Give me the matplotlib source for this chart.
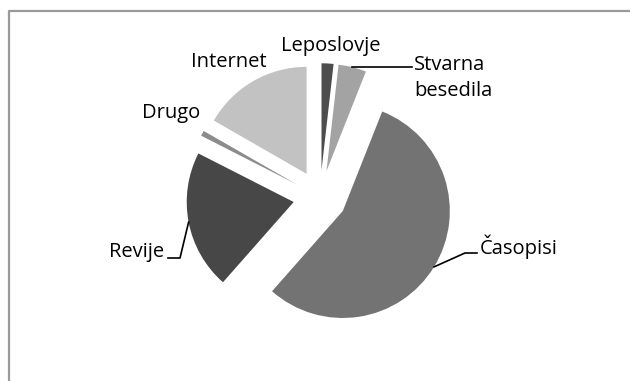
import numpy as np
import matplotlib.pyplot as plt
from matplotlib.lines import Line2D

# podatki (delež v %)
kategorije = ['Leposlovje', 'Stvarna\nbesedila', 'Časopisi', 'Revije', 'Drugo', 'Internet']
deleži = [1.8, 4.2, 55.5, 21.0, 0.8, 16.7]
barve = ['#4d4d4d', '#a3a3a3', '#737373', '#474747', '#8c8c8c', '#c2c2c2']

plt.rcParams['font.family'] = ['Open Sans', 'DejaVu Sans']

W, H = 630, 381
R = 107.0          # polmer v pikslih
cx, cy = 320, 197  # središče torte v pikslih

fig = plt.figure(figsize=(W / 100, H / 100), dpi=100)
ax = fig.add_axes([0, 0, 1, 1])

wedges, _ = ax.pie(deleži, colors=barve, startangle=90, counterclock=False,
                   explode=[0.25] * len(deleži), radius=1.0,
                   wedgeprops=dict(linewidth=0))

# meje osi tako, da je 1 enota = R pikslov
ax.set_xlim(-cx / R, (W - cx) / R)
ax.set_ylim(-(H - cy) / R, cy / R)
ax.set_aspect('equal')
ax.axis('off')


def px(x, y):
    return (x - cx) / R, (cy - y) / R


def rob(w):
    # točka na loku pri srednjem kotu klina
    a = np.deg2rad((w.theta1 + w.theta2) / 2)
    return w.center[0] + w.r * np.cos(a), w.center[1] + w.r * np.sin(a)


fs = 14.5
# oznake
ax.text(*px(331, 46), kategorije[0], ha='center', va='center', fontsize=fs)
ax.text(*px(414, 78), kategorije[1], ha='left', va='center', fontsize=fs,
        linespacing=1.45)
ax.text(*px(480, 247), kategorije[2], ha='left', va='center', fontsize=fs)
ax.text(*px(164, 252), kategorije[3], ha='right', va='center', fontsize=fs)
ax.text(*px(171, 113), kategorije[4], ha='center', va='center', fontsize=fs)
ax.text(*px(229, 62), kategorije[5], ha='center', va='center', fontsize=fs)

# povezovalne črte
x0, y0 = rob(wedges[1])
x1, y1 = px(412, 0)
ax.plot([x0, x1], [y0, y0], color='black', lw=1.2)

x0, y0 = rob(wedges[2])
xa, ya = px(465, 253)
xb, _ = px(477, 253)
ax.plot([x0, xa, xb], [y0, ya, ya], color='black', lw=1.2)

x0, y0 = rob(wedges[3])
xa, ya = px(180, 258)
xb, _ = px(168, 258)
ax.plot([x0, xa, xb], [y0, ya, ya], color='black', lw=1.2)

# okvir grafikona
fig.add_artist(Line2D([9 / W, 9 / W, 1.0], [0.0, 1 - 11 / H, 1 - 11 / H],
                      transform=fig.transFigure, color='#9a9a9a', lw=1.6))

plt.savefig('out.png', dpi=100)
